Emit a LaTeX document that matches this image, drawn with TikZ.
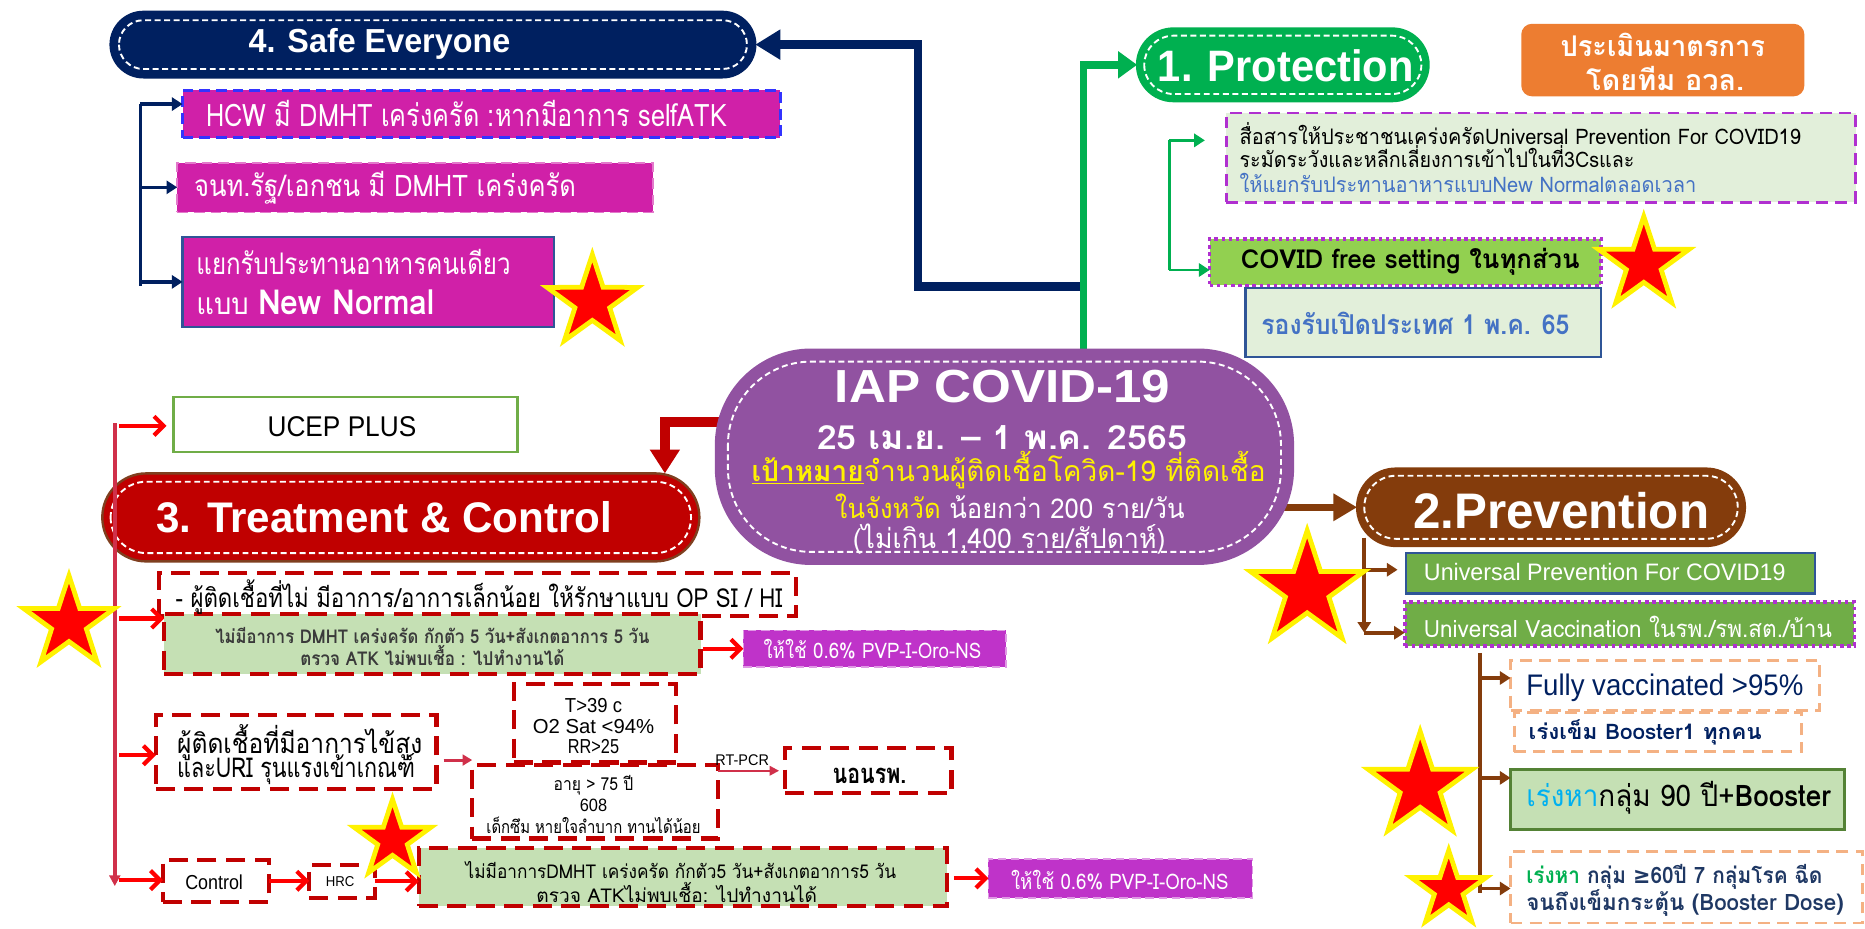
\documentclass[tikz,border=0pt]{standalone}
\usepackage{fontspec}
\setmainfont{Liberation Sans}
\newfontfamily\thf[Script=Thai]{Loma}
\newfontfamily\djf{DejaVu Sans}
\usetikzlibrary{arrows.meta,shapes.geometric,calc}
\definecolor{navy}{HTML}{002060}
\definecolor{gr}{HTML}{00B050}
\definecolor{dred}{HTML}{C00000}
\definecolor{brn}{HTML}{843C0C}
\definecolor{purp}{HTML}{9152A1}
\definecolor{mag}{HTML}{D020A8}
\definecolor{mag2}{HTML}{BF33C9}
\definecolor{lgreen}{HTML}{C5E0B4}
\definecolor{pale}{HTML}{E2EFDA}
\definecolor{lime}{HTML}{92D050}
\definecolor{pgreen}{HTML}{70AD47}
\definecolor{orng}{HTML}{ED7D31}
\definecolor{peach}{HTML}{F4B183}
\definecolor{bblue}{HTML}{2F5597}
\definecolor{tblue}{HTML}{4472C4}
\definecolor{crim}{HTML}{D0304A}
\definecolor{sky}{HTML}{00B0F0}
\definecolor{dgreen}{HTML}{548235}
\definecolor{vio}{HTML}{B030D0}
\definecolor{dtext}{HTML}{1F3864}
\definecolor{dgray}{HTML}{3A3A3A}
\definecolor{tcb}{HTML}{7F3F1F}
\newcommand\fs[1]{\fontsize{#1}{#1}\selectfont}
\newcommand\fw[2]{\resizebox{#1pt}{\height}{#2}}
\newcommand\rbox[6]{\node[#6, minimum width={#4-#2}, minimum height={#5-#3}, inner sep=0pt, outer sep=0pt] (#1) at ({(#2+#4)/2},{(#3+#5)/2}) {};}
\newcommand\pill[9]{%
 \node[fill=#6, draw=#7, line width=2pt, rounded corners=#8pt, minimum width={#4-#2}, minimum height={#5-#3}, inner sep=0pt, outer sep=0pt] (#1) at ({(#2+#4)/2},{(#3+#5)/2}) {};
 \pgfmathsetmacro\pilr{#8-#9}%
 \draw[white, line width=1.6pt, dash pattern=on 5pt off 3pt, rounded corners=\pilr pt] ({#2+#9},{#3+#9}) rectangle ({#4-#9},{#5-#9});
}
\tikzset{
 redarr/.style={draw=red, line width=3.5pt, -{Straight Barb[length=8pt,width=16pt]}},
 navysub/.style={draw=navy, line width=3pt, -{Triangle[length=9pt,width=11pt]}},
 grsub/.style={draw=gr, line width=2.5pt, -{Triangle[length=9pt,width=11pt]}},
 brsub/.style={draw=brn, line width=3pt, -{Triangle[length=9pt,width=11pt]}},
 rdash/.style={draw=dred, line width=3.5pt, dash pattern=on 16pt off 8pt},
 pdash/.style={draw=peach, line width=2.5pt, dash pattern=on 10pt off 6pt},
 vdot/.style={draw=vio, line width=3pt, dash pattern=on 3pt off 3pt},
 starr/.style={star, star points=5, star point ratio=2.6, fill=red, draw=yellow, line width=4pt, inner sep=0pt},
 tx/.style={inner sep=0pt},
 tw/.style={inner sep=0pt, anchor=west}
}
\begin{document}
\begin{tikzpicture}[x=1pt,y=-1pt]
\useasboundingbox (0,0) rectangle (1568,781);
\fill[white] (0,0) rectangle (1568,781);
% main connector points
\coordinate (nj) at (911,241);
\coordinate (nb) at (772,241);
\coordinate (g0) at (911,300);
\coordinate (r0) at (625,355);
\coordinate (rx) at (559,0);
\coordinate (b0) at (1060,426.5);
% pills
\pill{se}{93}{10}{635}{65}{navy}{navy}{27.5}{7}
\pill{pr}{956}{24}{1201}{85}{gr}{gr}{30.5}{6}
\pill{tc}{86}{398}{588}{472}{dred}{tcb}{37}{7}
\pill{pv}{1141}{394}{1467}{459}{brn}{brn}{32.5}{6}
\draw[navy, line width=7pt, -{Triangle[length=21pt,width=24pt]}] (nj) -- (nb) |- (se.east);
\draw[gr, line width=6.5pt, -{Triangle[length=16pt,width=22pt]}] (g0) |- (pr.west);
\draw[dred, line width=8pt, -{Triangle[length=20pt,width=24pt]}] (r0) -| (rx |- tc.north);
\draw[brn, line width=6pt, -{Triangle[length=20pt,width=22pt]}] (b0) -- (pv.west);
\pill{cen}{602}{294}{1087}{474}{purp}{purp}{80}{10}
% protection boxes
\rbox{ev}{1279}{20}{1517}{81}{fill=orng, rounded corners=9pt}
\rbox{lg}{1031}{95}{1560}{170}{fill=pale, draw=vio, line width=2.5pt, dash pattern=on 10pt off 6pt}
\rbox{cf}{1017}{201}{1346}{240}{fill=lime, vdot}
\rbox{op65}{1047}{242}{1346}{300}{fill=pale, draw=bblue, line width=2pt}
% safe boxes
\rbox{hcw}{153.5}{76}{656}{116}{fill=mag, draw=blue!80, line width=2.5pt, dash pattern=on 9pt off 5pt}
\rbox{jnt}{149}{137}{549}{178.6}{fill=mag, draw=mag!60, line width=1.5pt, dash pattern=on 9pt off 5pt}
\rbox{nn}{153.5}{199.5}{466}{275}{fill=mag, draw=bblue, line width=2pt}
% treatment boxes
\rbox{ucep}{146}{334}{435}{380}{fill=white, draw=pgreen, line width=2pt}
\rbox{op}{134}{482}{669}{518}{fill=white, rdash}
\rbox{g1}{138}{516}{589}{567}{fill=lgreen, rdash}
\rbox{m1}{625}{530}{846}{561}{fill=mag2, draw=mag2!50, line width=1.5pt, dash pattern=on 7pt off 4pt}
\rbox{fev}{131}{601}{367}{663}{fill=white, rdash}
\rbox{t39}{432}{575}{568}{641}{fill=white, rdash}
\rbox{age}{397}{643}{604}{705}{fill=white, rdash}
\rbox{nrp}{660}{629}{800}{667}{fill=white, rdash}
\rbox{ctl}{137}{723}{226}{758}{fill=white, rdash}
\rbox{hrc}{260}{727}{315}{755}{fill=white, rdash}
\rbox{g2}{352}{713}{796}{762}{fill=lgreen, rdash}
\rbox{m2}{831}{722}{1053}{755}{fill=mag2, draw=mag2!50, line width=1.5pt, dash pattern=on 7pt off 4pt}
% prevention boxes
\rbox{up}{1182}{465}{1526}{499}{fill=pgreen, draw=bblue, line width=2pt}
\rbox{uv}{1181}{506}{1559}{543}{fill=pgreen, vdot}
\rbox{fv}{1270}{555}{1530}{597}{fill=white, pdash}
\rbox{b1}{1273}{599}{1515}{632}{fill=white, pdash}
\rbox{r90}{1270}{647}{1551}{697}{fill=lgreen, draw=dgreen, line width=2.5pt}
\rbox{r60}{1270}{716}{1566}{776}{fill=white, pdash}
% safe sub connectors
\coordinate (sv1) at (118,87.5);
\coordinate (sv2) at (118,157.5);
\coordinate (sv3) at (118,237);
\coordinate (sv4) at (118,240.5);
\draw[navy, line width=3pt] (sv1) -- (sv4);
\draw[navysub] (sv1) -- (sv1 -| hcw.west);
\draw[navysub] (sv2) -- (sv2 -| jnt.west);
\draw[navysub] (sv3) -- (sv3 -| nn.west);
% protection sub connectors
\coordinate (pv1) at (983,118);
\coordinate (pv2) at (983,227);
\draw[gr, line width=2.5pt] (pv1) -- (pv2);
\draw[grsub] (pv1) -- ($(pv1 -| lg.west)+(-18,0)$);
\draw[grsub] (pv2) -- (pv2 -| cf.west);
% prevention sub connectors
\coordinate (q1) at (1147,452);
\coordinate (q2) at (1147,479);
\coordinate (q3) at (1147,532);
\draw[brsub] (q1) -- (q3);
\draw[brsub] (q2) -- ($(q2 -| up.west)+(-7,0)$);
\draw[brsub] (q3) -- (q3 -| uv.west);
\coordinate (w1) at (1244,549);
\coordinate (w2) at (1244,570);
\coordinate (w3) at (1244,654);
\coordinate (w4) at (1244,747);
\coordinate (w5) at (1244,751);
\draw[brn, line width=3.5pt] (w1) -- (w5);
\draw[brsub] (w2) -- (w2 -| fv.west);
\draw[brsub] (w3) -- (w3 -| r90.west);
\draw[brsub] (w4) -- (w4 -| r60.west);
% treatment sub connectors
\coordinate (c1) at (96.5,356);
\coordinate (cb) at (96.5,745);
\draw[crim, line width=3pt, -{Triangle[length=9pt,width=9pt]}] (c1) -- (cb);
\coordinate (a1) at (100,358);
\coordinate (a2) at (100,520);
\coordinate (a3) at (100,635);
\coordinate (a4) at (100,740);
\draw[redarr] (a1) -- ($(a1 -| ucep.west)+(-6,0)$);
\draw[redarr] (a2) -- (a2 -| g1.west);
\draw[redarr] (a3) -- (a3 -| fev.west);
\draw[redarr] (a4) -- (a4 -| ctl.west);
\draw[redarr] (ctl.east) -- (ctl.east -| hrc.west);
\draw[redarr] (hrc.east) -- (hrc.east -| g2.west);
\draw[redarr] ($(g1.east |- m1.west)+(2,0)$) -- (m1.west);
\draw[redarr] ($(g2.east |- m2.west)+(6,0)$) -- (m2.west);
\coordinate (f1) at (373,639);
\draw[crim, line width=2.5pt, -{Triangle[length=8pt,width=9pt]}] (f1) -- (f1 -| age.west);
\draw[crim, line width=1.8pt, -{Triangle[length=8pt,width=8pt]}] (age.east |- nrp.west) -- ($(nrp.west)+(-5,0)$);
% texts: safe
\node[tx] (t1) at (319,37) {\fs{28}\bfseries\color{white}\fw{220}{4. Safe Everyone}};
\node[tw] (t2) at (173,95) {\thf\fs{26}\color{white}\fw{438}{HCW มี DMHT เคร่งครัด :หากมีอาการ selfATK}};
\node[tw] (t3) at (163,158) {\thf\fs{25}\color{white}\fw{321}{จนท.รัฐ/เอกชน มี DMHT เคร่งครัด}};
\node[tw] (t4) at (165,220) {\thf\fs{25}\color{white}\fw{264}{แยกรับประทานอาหารคนเดียว}};
\node[tw] (t5) at (165,254) {\thf\fs{25}\color{white}\fw{200}{แบบ {\fs{29}\bfseries New Normal}}};
% protection
\node[tx] (t6) at (1081,55) {\fs{37}\bfseries\color{white}\fw{215}{1. Protection}};
\node[tx] (t7) at (1398,38) {\thf\fs{24}\bfseries\color{white}\fw{172}{ประเมินมาตรการ}};
\node[tx] (t8) at (1400,66) {\thf\fs{24}\bfseries\color{white}\fw{133}{โดยทีม อวล.}};
\node[tw] (t9) at (1042,112) {\thf\fs{18}\fw{472}{สื่อสารให้ประชาชนเคร่งครัดUniversal Prevention For COVID19}};
\node[tw] (t10) at (1042,132) {\thf\fs{18}\fw{332}{ระมัดระวังและหลีกเลี่ยงการเข้าไปในที่3Csและ}};
\node[tw] (t11) at (1042,154) {\thf\fs{18}\color{tblue}\fw{384}{ให้แยกรับประทานอาหารแบบNew Normalตลอดเวลา}};
\node[tw] (t12) at (1043,220) {\thf\fs{22}\bfseries\fw{285}{COVID free setting ในทุกส่วน}};
\node[tx] (t13) at (1190,272) {\thf\fs{23}\bfseries\color{tblue}\fw{259}{รองรับเปิดประเทศ 1 พ.ค. 65}};
% center
\node[tx] (t14) at (843,325) {\fs{39}\bfseries\color{white}\fw{282}{IAP COVID-19}};
\node[tx] (t15) at (842.5,368) {\thf\fs{28}\bfseries\color{white}\fw{311}{25 เม.ย. – 1 พ.ค. 2565}};
\node[tx] (t16) at (848,395) {\thf\fs{24}\color{yellow}\fw{432}{{\bfseries\underline{เป้าหมาย}}จำนวนผู้ติดเชื้อโควิด-19 ที่ติดเชื้อ}};
\node[tx] (t17) at (849,426) {\thf\fs{23}\fw{294}{{\color{yellow}ในจังหวัด} {\color{white}น้อยกว่า 200 ราย/วัน}}};
\node[tx] (t18) at (848.5,453) {\thf\fs{23}\color{white}\fw{263}{(ไม่เกิน 1,400 ราย/สัปดาห์)}};
% treatment
\node[tx] (t19) at (323,434.5) {\fs{36}\bfseries\color{white}\fw{383}{3. Treatment \& Control}};
\node[tx] (t20) at (287.5,359) {\fs{24}\fw{125}{UCEP PLUS}};
\node[tw] (t21) at (147.5,502) {\thf\fs{22}\fw{510}{- ผู้ติดเชื้อที่ไม่ มีอาการ/อาการเล็กน้อย ให้รักษาแบบ OP SI / HI}};
\node[tx] (t22) at (363.5,534) {\thf\fs{16}\bfseries\color{dgray}\fw{365}{ไม่มีอาการ DMHT เคร่งครัด กักตัว 5 วัน+สังเกตอาการ 5 วัน}};
\node[tx] (t23) at (363.5,551) {\thf\fs{16}\bfseries\color{dgray}\fw{222}{ตรวจ ATK ไม่พบเชื้อ : ไปทำงานได้}};
\node[tx] (t24) at (733.5,546) {\thf\fs{18}\color{white}\fw{183}{ให้ใช้ 0.6\% PVP-I-Oro-NS}};
\node[tx] (t25) at (252,624) {\thf\fs{23}\fw{206}{ผู้ติดเชื้อที่มีอาการไข้สูง}};
\node[tx] (t26) at (249,647) {\thf\fs{23}\fw{200}{และURI รุนแรงเข้าเกณฑ์}};
\node[tx] (t27) at (499,593) {\fs{17}\fw{48}{T>39 c}};
\node[tx] (t28) at (499,611) {\fs{17}\fw{102}{O2 Sat <94\%}};
\node[tx] (t29) at (499,628) {\fs{17}\fw{43}{RR>25}};
\node[tx] (t30) at (499,660) {\thf\fs{15}\fw{67}{อายุ > 75 ปี}};
\node[tx] (t31) at (499,677) {\fs{15}\fw{23}{608}};
\node[tx] (t32) at (499,694) {\thf\fs{15}\fw{180}{เด็กซึม หายใจลำบาก ทานได้น้อย}};
\node[tx] (t33) at (624,639) {\fs{13}\fw{45}{RT-PCR}};
\node[tx] (t34) at (731,652) {\thf\fs{23}\bfseries\fw{62}{นอนรพ.}};
\node[tx] (t35) at (180,741.5) {\fs{17}\fw{48.5}{Control}};
\node[tx] (t36) at (286,741) {\fs{12}\fw{24}{HRC}};
\node[tx] (t37) at (572.5,731.5) {\thf\fs{16}\fw{362}{ไม่มีอาการDMHT เคร่งครัด กักตัว5 วัน+สังเกตอาการ5 วัน}};
\node[tx] (t38) at (569,750) {\thf\fs{16}\fw{236}{ตรวจ ATKไม่พบเชื้อ: ไปทำงานได้}};
\node[tx] (t39) at (941.5,740) {\thf\fs{18}\color{white}\fw{183}{ให้ใช้ 0.6\% PVP-I-Oro-NS}};
% prevention
\node[tx] (t40) at (1312.5,429) {\fs{42}\bfseries\color{white}\fw{249}{2.Prevention}};
\node[tw] (t41) at (1197,481) {\fs{20}\color{white}\fw{304}{Universal Prevention For COVID19}};
\node[tw] (t42) at (1197,527) {\thf\fs{20}\color{white}\fw{343}{Universal Vaccination ในรพ./รพ.สต./บ้าน}};
\node[tw] (t43) at (1283,578) {\fs{25}\color{navy}\fw{233}{Fully vaccinated >95\%}};
\node[tw] (t44) at (1285,615.5) {\thf\fs{18}\bfseries\color{navy}\fw{196}{เร่งเข็ม Booster1 ทุกคน}};
\node[tw] (t45) at (1283,671) {\thf\fs{25}\fw{256}{{\color{sky}เร่งหา}กลุ่ม 90 ปี+{\bfseries Booster}}};
\node[tw] (t46) at (1283,737) {\thf\fs{19}\bfseries\color{dtext}\fw{249}{{\color{gr}เร่งหา} กลุ่ม {\djf\bfseries ≥}60ปี 7 กลุ่มโรค ฉีด}};
\node[tw] (t47) at (1283,759) {\thf\fs{19}\bfseries\color{dtext}\fw{267}{จนถึงเข็มกระตุ้น (Booster Dose)}};
% stars
\node[starr, minimum size=80pt] (s1) at (498,254) {};
\node[starr, minimum size=80pt] (s2) at (1382,222) {};
\node[starr, minimum size=80pt] (s3) at (58,524) {};
\node[starr, minimum size=68pt] (s4) at (330,706) {};
\node[starr, minimum size=100pt] (s5) at (1099,496) {};
\node[starr, minimum size=92pt] (s6) at (1194,661) {};
\node[starr, minimum size=66pt] (s7) at (1218,748) {};
\end{tikzpicture}
\end{document}
